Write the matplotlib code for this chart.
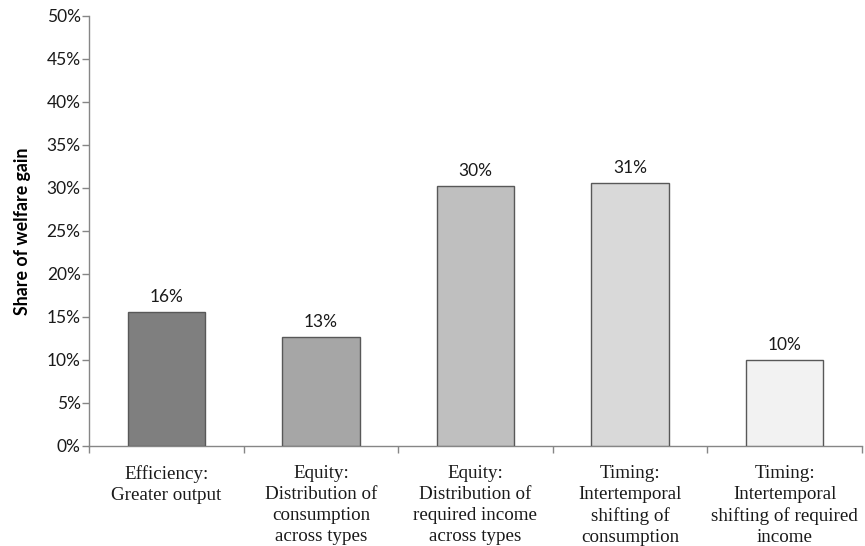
import matplotlib
matplotlib.use('Agg')
import matplotlib.pyplot as plt
import matplotlib.ticker as mticker

# values (share of welfare gain, %)
categories = [
    "Efficiency:\nGreater output",
    "Equity:\nDistribution of\nconsumption\nacross types",
    "Equity:\nDistribution of\nrequired income\nacross types",
    "Timing:\nIntertemporal\nshifting of\nconsumption",
    "Timing:\nIntertemporal\nshifting of required\nincome",
]
shares = [15.6, 12.7, 30.2, 30.6, 10.0]
bar_colors = ['#7f7f7f', '#a6a6a6', '#bfbfbf', '#d9d9d9', '#f2f2f2']
y_ticks = [0, 5, 10, 15, 20, 25, 30, 35, 40, 45, 50]

SANS = ['Lato', 'DejaVu Sans']
SERIF = ['Liberation Serif', 'DejaVu Serif']
AXIS_GRAY = '#868686'

fig = plt.figure(figsize=(8.65, 5.46), dpi=100)
ax = fig.add_axes([0.1029, 0.1832, 0.8936, 0.7881])

x = list(range(len(shares)))
bars = ax.bar(x, shares, width=0.5, color=bar_colors,
              edgecolor='#585858', linewidth=1.0, zorder=3)

for bar, v in zip(bars, shares):
    ax.annotate(f"{v:.0f}%", (bar.get_x() + bar.get_width() / 2, bar.get_height()),
                xytext=(0, 5), textcoords='offset points',
                ha='center', va='bottom', fontsize=12.5, family=SANS, color='#1a1a1a')

ax.set_xlim(-0.5, len(shares) - 0.5)
ax.set_ylim(0, 50)

ax.set_yticks(y_ticks)
ax.yaxis.set_major_formatter(mticker.FuncFormatter(lambda v, _: f"{v:.0f}%"))
for lbl in ax.get_yticklabels():
    lbl.set_family(SANS)
    lbl.set_fontsize(12.5)
    lbl.set_color('#1a1a1a')
ax.tick_params(axis='y', direction='out', length=5, width=1, color=AXIS_GRAY, pad=1)

# category labels at bar centres, tick marks at category boundaries
ax.set_xticks(x)
ax.set_xticklabels(categories, family=SERIF, fontsize=13.7, color='#1a1a1a',
                   linespacing=1.3)
ax.tick_params(axis='x', which='major', length=0, pad=14)
ax.set_xticks([i - 0.5 for i in range(len(shares) + 1)], minor=True)
ax.tick_params(axis='x', which='minor', direction='out', length=5, width=1,
               color=AXIS_GRAY)

ax.set_ylabel("Share of welfare gain", family=SANS, fontsize=12.8,
              fontweight='bold', labelpad=11)

for side in ['top', 'right']:
    ax.spines[side].set_visible(False)
for side in ['left', 'bottom']:
    ax.spines[side].set_color(AXIS_GRAY)
    ax.spines[side].set_linewidth(1)

fig.savefig("out.png", dpi=100, facecolor='white')
